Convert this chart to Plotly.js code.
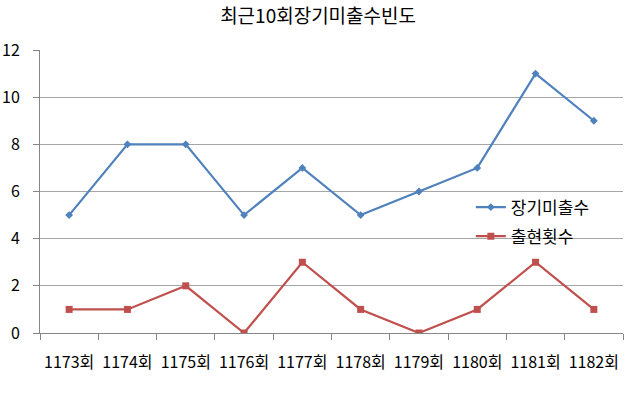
<!DOCTYPE html>
<html><head><meta charset="utf-8">
<script src="https://cdn.plot.ly/plotly-3.0.1.min.js"></script>
<style>body{margin:0}#c{width:640px;height:398px}</style>
</head><body><div id="c"></div>
<script>
const categories = ['1173회','1174회','1175회','1176회','1177회','1178회','1179회','1180회','1181회','1182회'];
const longAbsent = [5,8,8,5,7,5,6,7,11,9];
const appearances = [1,1,2,0,3,1,0,1,3,1];
const yTicks = [0,2,4,6,8,10,12];
const FONT = '"Noto Sans CJK KR", "Noto Sans", sans-serif';
const traces = [
  {x: categories, y: longAbsent, name: '장기미출수', legendgroup: 'a', type: 'scatter', mode: 'lines+markers',
   line: {color: '#4F81BD', width: 2.2}, marker: {symbol: 'diamond', size: 6, color: '#4F81BD'}},
  {x: categories, y: appearances, name: '출현횟수', legendgroup: 'b', type: 'scatter', mode: 'lines+markers',
   line: {color: '#C0504D', width: 2.2}, marker: {symbol: 'square', size: 7, color: '#C0504D'}}
];
const layout = {
  width: 640, height: 398,
  margin: {l: 40, r: 17, t: 50, b: 65},
  paper_bgcolor: '#fff', plot_bgcolor: '#fff',
  font: {family: FONT, size: 15, color: '#000'},
  title: {text: '최근10회장기미출수빈도', x: 0.497, xanchor: 'center', y: 0.96, yanchor: 'middle', font: {family: FONT, size: 19, color: '#000'}},
  xaxis: {type: 'category', range: [-0.5, 9.5], tickson: 'boundaries', ticks: 'outside', ticklen: 6, tickcolor: '#868686',
    showline: true, linecolor: '#868686', linewidth: 1, showgrid: false, zeroline: false, fixedrange: true,
    tickangle: 0, tickfont: {family: FONT, size: 16, color: '#000'}, ticklabelstandoff: 15},
  yaxis: {range: [0, 12], tickvals: yTicks, ticktext: yTicks.map(String), ticks: 'outside', ticklen: 6, tickcolor: '#868686',
    showline: true, linecolor: '#868686', linewidth: 1, showgrid: true, gridcolor: '#a6a6a6', gridwidth: 1,
    zeroline: false, tickfont: {family: FONT, size: 16, color: '#000'}, ticklabelstandoff: 10},
  showlegend: true,
  legend: {x: 0.739, xanchor: 'left', y: 0.507, yanchor: 'top', bgcolor: 'rgba(0,0,0,0)', borderwidth: 0,
    font: {family: FONT, size: 17, color: '#000'}, itemwidth: 30, tracegroupgap: 4}
};
Plotly.newPlot('c', traces, layout, {displayModeBar: false, staticPlot: true});
</script></body></html>
